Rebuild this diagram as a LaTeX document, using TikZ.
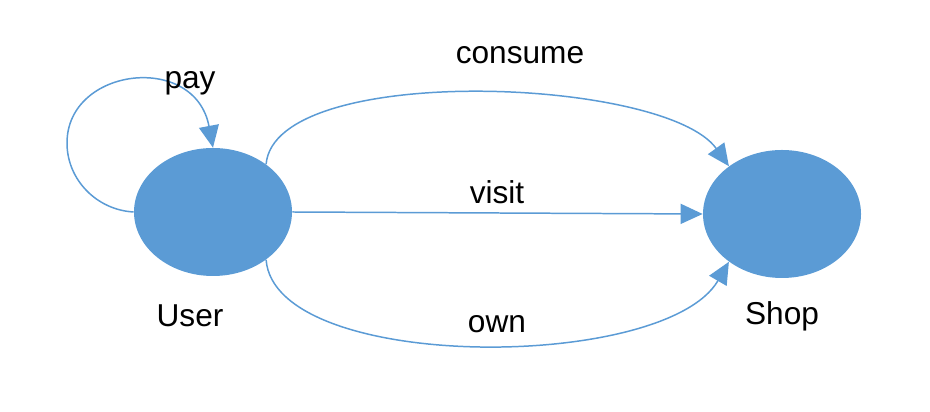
\documentclass[tikz,border=0pt]{standalone}
\usepackage{fontspec}
\setmainfont{Liberation Sans}
\usepackage{xcolor}
\usepackage{tikz}
\usetikzlibrary{shapes,arrows,positioning,calc,arrows.meta}
\definecolor{nodeblue}{HTML}{5B9BD5}

\begin{document}
\begin{tikzpicture}[ent/.style={ellipse, fill=nodeblue, draw=none, minimum width=3.16cm, minimum height=2.56cm, inner sep=0pt}, rel/.style={draw=nodeblue, line width=0.85pt, -{Triangle[length=0.44cm, width=0.4cm]}}, lbl/.style={font=\fontsize{18}{20}\selectfont, inner sep=0pt}]
    \useasboundingbox (0,0) rectangle (18.6,8.24);
    \node[ent] (user) at (4.26,4.0) {};
    \node[ent] (shop) at (15.64,3.96) {};
    \node[lbl] (userlbl) at (3.8,1.92) {User};
    \node[lbl] (shoplbl) at (15.64,1.92) {Shop};
    
    \draw[rel] (user.west) .. controls (1.94,4.04) and (1.34,4.64) .. (1.34,5.38) .. controls (1.34,6.9) and (3.9,7.2) .. (user.north);
    \draw[rel] (user.42) .. controls (5.5,7.0) and (13.3,6.7) .. (shop.138);
    \draw[rel] (user.east) -- (shop.west);
    \draw[rel] (user.-42) .. controls (5.5,0.78) and (13.3,0.8) .. (shop.-138);
    
    \node[lbl] (paylbl) at (3.8,6.58) {pay};
    \node[lbl] (consumelbl) at (10.4,7.14) {consume};
    \node[lbl] (visitlbl) at (9.94,4.4) {visit};
    \node[lbl] (ownlbl) at (9.94,1.76) {own};
\end{tikzpicture}
\end{document}
